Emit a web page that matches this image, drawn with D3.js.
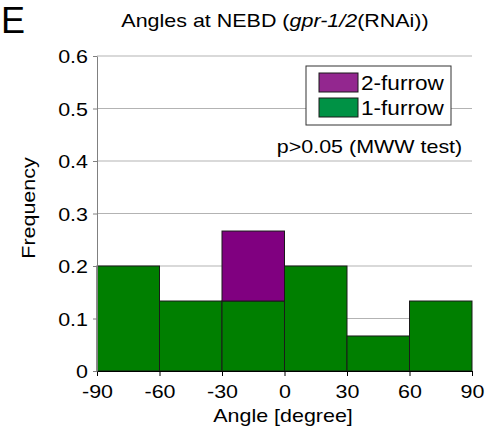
<!DOCTYPE html>
<html>
<head>
<meta charset="utf-8">
<script src="https://cdn.jsdelivr.net/npm/d3@7"></script>
<style>
  body { margin: 0; background: #fff; }
  text { font-family: "Liberation Sans", Arial, sans-serif; fill: #000; }
</style>
</head>
<body>
<div id="chart-area"></div>
<script>
// bins of angle (degree) and frequency per series
var binStarts = [-90, -60, -30, 0, 30, 60];
var binWidth = 30;
var oneFurrow = [0.2, 0.1333, 0.1333, 0.2, 0.0667, 0.1333];
var twoFurrow = [0, 0, 0.1333, 0, 0, 0];
var xTicks = [-90, -60, -30, 0, 30, 60, 90];
var yTicks = [0, 0.1, 0.2, 0.3, 0.4, 0.5, 0.6];

var margin = { left: 97, right: 24, top: 56, bottom: 59 };
var width = 496 - margin.left - margin.right,
    height = 430 - margin.top - margin.bottom;

// the original uses a wide Helvetica, so text gets stretched a bit
var sx = 1.13;

var svg = d3.select("#chart-area")
    .append("svg")
        .attr("width", 496)
        .attr("height", 430);

var g = svg.append("g")
    .attr("transform", "translate(" + margin.left + ", " + margin.top + ")");

// put a text at (tx, ty) and stretch it horizontally
function addText(parent, tx, ty, size, anchor) {
    return parent.append("g")
        .attr("transform", "translate(" + tx + "," + ty + ")")
      .append("text")
        .attr("transform", "scale(" + sx + ",1)")
        .attr("font-size", size + "px")
        .attr("text-anchor", anchor || "start");
}

var x = d3.scaleLinear().domain([-90, 90]).range([0, width]);
var y = d3.scaleLinear().domain([0, 0.6]).range([height, 0]);

// gridlines
g.selectAll("line.grid")
    .data(yTicks.slice(1))
    .enter().append("line")
        .attr("class", "grid")
        .attr("x1", 0)
        .attr("x2", width)
        .attr("y1", function(d){ return y(d); })
        .attr("y2", function(d){ return y(d); })
        .attr("stroke", "#b3b3b3")
        .attr("stroke-width", 1);

// stacked bars
var bins = binStarts.map(function(b, i) {
    return { x0: b, one: oneFurrow[i], two: twoFurrow[i] };
});

g.selectAll("rect.one")
    .data(bins)
    .enter().append("rect")
        .attr("class", "one")
        .attr("x", function(d){ return x(d.x0); })
        .attr("width", function(d){ return x(d.x0 + binWidth) - x(d.x0); })
        .attr("y", function(d){ return y(d.one); })
        .attr("height", function(d){ return height - y(d.one); })
        .attr("fill", "#007f00")
        .attr("stroke", "#1a1a1a")
        .attr("stroke-width", 1);

g.selectAll("rect.two")
    .data(bins.filter(function(d){ return d.two > 0; }))
    .enter().append("rect")
        .attr("class", "two")
        .attr("x", function(d){ return x(d.x0); })
        .attr("width", function(d){ return x(d.x0 + binWidth) - x(d.x0); })
        .attr("y", function(d){ return y(d.one + d.two); })
        .attr("height", function(d){ return y(d.one) - y(d.one + d.two); })
        .attr("fill", "#800080")
        .attr("stroke", "#1a1a1a")
        .attr("stroke-width", 1);

// X axis
var xAxisCall = d3.axisBottom(x)
    .tickValues(xTicks)
    .tickFormat(function(d){ return String(d); })
    .tickSize(5)
    .tickSizeOuter(0);
var xAxis = g.append("g")
    .attr("class", "x axis")
    .attr("transform", "translate(0," + height + ")")
    .call(xAxisCall);
xAxis.select(".domain").attr("stroke", "#000");
xAxis.selectAll(".tick line").attr("stroke", "#000");
xAxis.selectAll(".tick text")
    .attr("y", 27)
    .attr("dy", 0)
    .attr("transform", "scale(" + sx + ",1)");

// Y axis
var yAxisCall = d3.axisLeft(y)
    .tickValues(yTicks)
    .tickFormat(function(d){ return d === 0 ? "0" : d3.format(".1f")(d); })
    .tickSize(4)
    .tickSizeOuter(0);
var yAxis = g.append("g")
    .attr("class", "y axis")
    .call(yAxisCall);
yAxis.select(".domain").attr("stroke", "#808080");
yAxis.selectAll(".tick line").attr("stroke", "#808080");
yAxis.selectAll(".tick text")
    .attr("x", -9 / sx)
    .attr("dy", "0.36em")
    .attr("transform", "scale(" + sx + ",1)");

[xAxis, yAxis].forEach(function(a) {
    a.selectAll(".tick text")
        .attr("font-family", "'Liberation Sans', Arial, sans-serif")
        .attr("font-size", "19px")
        .attr("fill", "#000");
});

// Legend
var legend = g.append("g")
    .attr("transform", "translate(" + (width - 166) + ", 10)");
legend.append("rect")
    .attr("width", 145)
    .attr("height", 59)
    .attr("fill", "#fff")
    .attr("stroke", "#333")
    .attr("stroke-width", 1);
var legendItems = [
    { label: "2-furrow", color: "#93278f" },
    { label: "1-furrow", color: "#009245" }
];
legendItems.forEach(function(d, i) {
    legend.append("rect")
        .attr("x", 13)
        .attr("y", 7 + i * 25)
        .attr("width", 39)
        .attr("height", 19)
        .attr("fill", d.color)
        .attr("stroke", "#1a1a1a")
        .attr("stroke-width", 1);
    addText(legend, 55, 24 + i * 25, 20).text(d.label);
});

// p-value note
addText(g, 369.5 - margin.left, 152.5 - margin.top, 19, "middle")
    .text("p>0.05 (MWW test)");

// Title
var title = addText(svg, 275, 27, 19, "middle");
title.append("tspan").text("Angles at NEBD (");
title.append("tspan").attr("font-style", "italic").text("gpr-1/2");
title.append("tspan").text("(RNAi))");

// Panel letter
svg.append("text")
    .attr("x", 1)
    .attr("y", 33)
    .attr("font-size", "36px")
    .text("E");

// X label
addText(svg, 283, 422, 19, "middle").text("Angle [degree]");

// Y label
svg.append("g")
    .attr("transform", "translate(35,208) rotate(-90)")
  .append("text")
    .attr("transform", "scale(" + sx + ",1)")
    .attr("font-size", "19px")
    .attr("text-anchor", "middle")
    .text("Frequency");
</script>
</body>
</html>
